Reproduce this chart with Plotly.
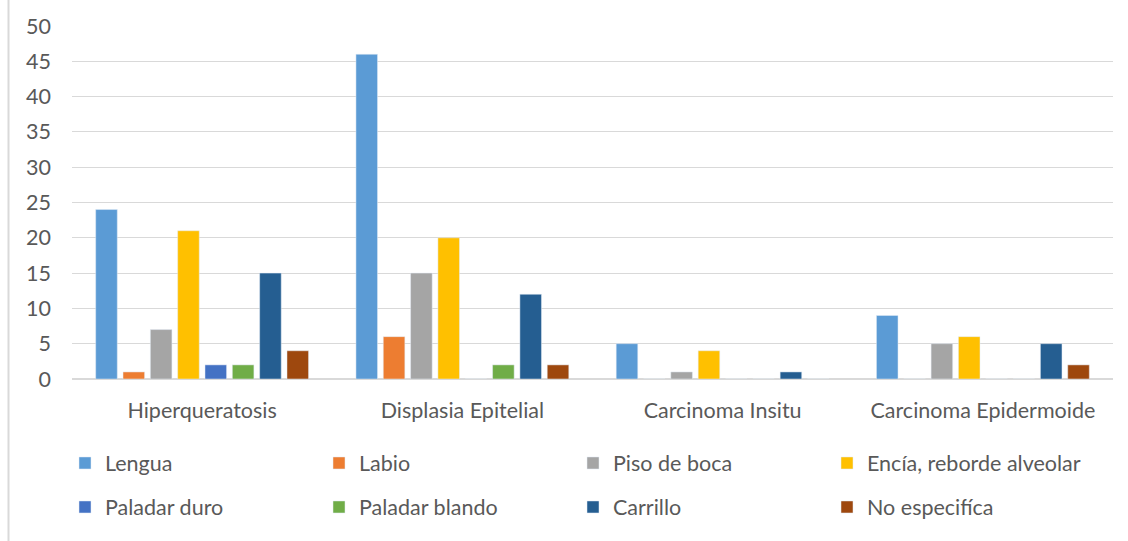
import plotly.graph_objects as go

categories = ["Hiperqueratosis", "Displasia Epitelial", "Carcinoma Insitu", "Carcinoma Epidermoide"]
series_names = ["Lengua", "Labio", "Piso de boca", "Encía, reborde alveolar",
                "Paladar duro", "Paladar blando", "Carrillo", "No especifíca"]
lengua = [24, 46, 5, 9]
labio = [1, 6, 0, 0]
piso_de_boca = [7, 15, 1, 5]
encia = [21, 20, 4, 6]
paladar_duro = [2, 0, 0, 0]
paladar_blando = [2, 2, 0, 0]
carrillo = [15, 12, 1, 5]
no_especifica = [4, 2, 0, 2]
y_ticks = [0, 5, 10, 15, 20, 25, 30, 35, 40, 45, 50]

values = [lengua, labio, piso_de_boca, encia, paladar_duro, paladar_blando, carrillo, no_especifica]
colors = ["#5B9BD5", "#ED7D31", "#A5A5A5", "#FFC000", "#4472C4", "#70AD47", "#255E91", "#9E480E"]

FONT = "Lato"
FS = 21.5
TXT = "#595959"

fig = go.Figure()
for i, (name, vals, col) in enumerate(zip(series_names, values, colors)):
    fig.add_trace(go.Bar(
        x=categories, y=vals, name=name, marker_color=col,
        legend="legend" if i < 4 else "legend2",
    ))

L, R, T, B = 72, 15, 26, 162
W, H = 1128, 541
pw = W - L - R
ph = H - T - B

def px_x(p):
    return (p - L) / pw

def px_y(p):
    return (H - B - p) / ph

legend_common = dict(
    orientation="h", xanchor="left", yanchor="middle",
    entrywidth=209, entrywidthmode="pixels",
    font=dict(family=FONT, size=FS, color=TXT),
    itemwidth=30, bgcolor="rgba(0,0,0,0)",
    traceorder="normal",
)

fig.update_layout(
    width=W, height=H,
    margin=dict(l=L, r=R, t=T, b=B, autoexpand=False),
    paper_bgcolor="white", plot_bgcolor="white",
    barmode="group", bargap=0.16, bargroupgap=0.21,
    font=dict(family=FONT, size=FS, color=TXT),
    legend=dict(x=px_x(65), y=px_y(463), **legend_common),
    legend2=dict(x=px_x(65), y=px_y(507), **legend_common),
    xaxis=dict(showgrid=False, showline=False, ticks="", ticklabelstandoff=16,
               tickfont=dict(family=FONT, size=FS, color=TXT)),
    yaxis=dict(range=[0, 50], tickvals=y_ticks, showgrid=True, gridcolor="#D9D9D9",
               gridwidth=1, zeroline=True, zerolinecolor="#D9D9D9", zerolinewidth=2,
               showline=False, ticks="", ticklabelstandoff=20,
               tickfont=dict(family=FONT, size=FS, color=TXT)),
    shapes=[dict(type="line", xref="paper", yref="paper",
                 x0=px_x(8.5), x1=px_x(8.5), y0=px_y(0), y1=px_y(541),
                 line=dict(color="#D9D9D9", width=2))],
)

fig.write_html("out.html")
